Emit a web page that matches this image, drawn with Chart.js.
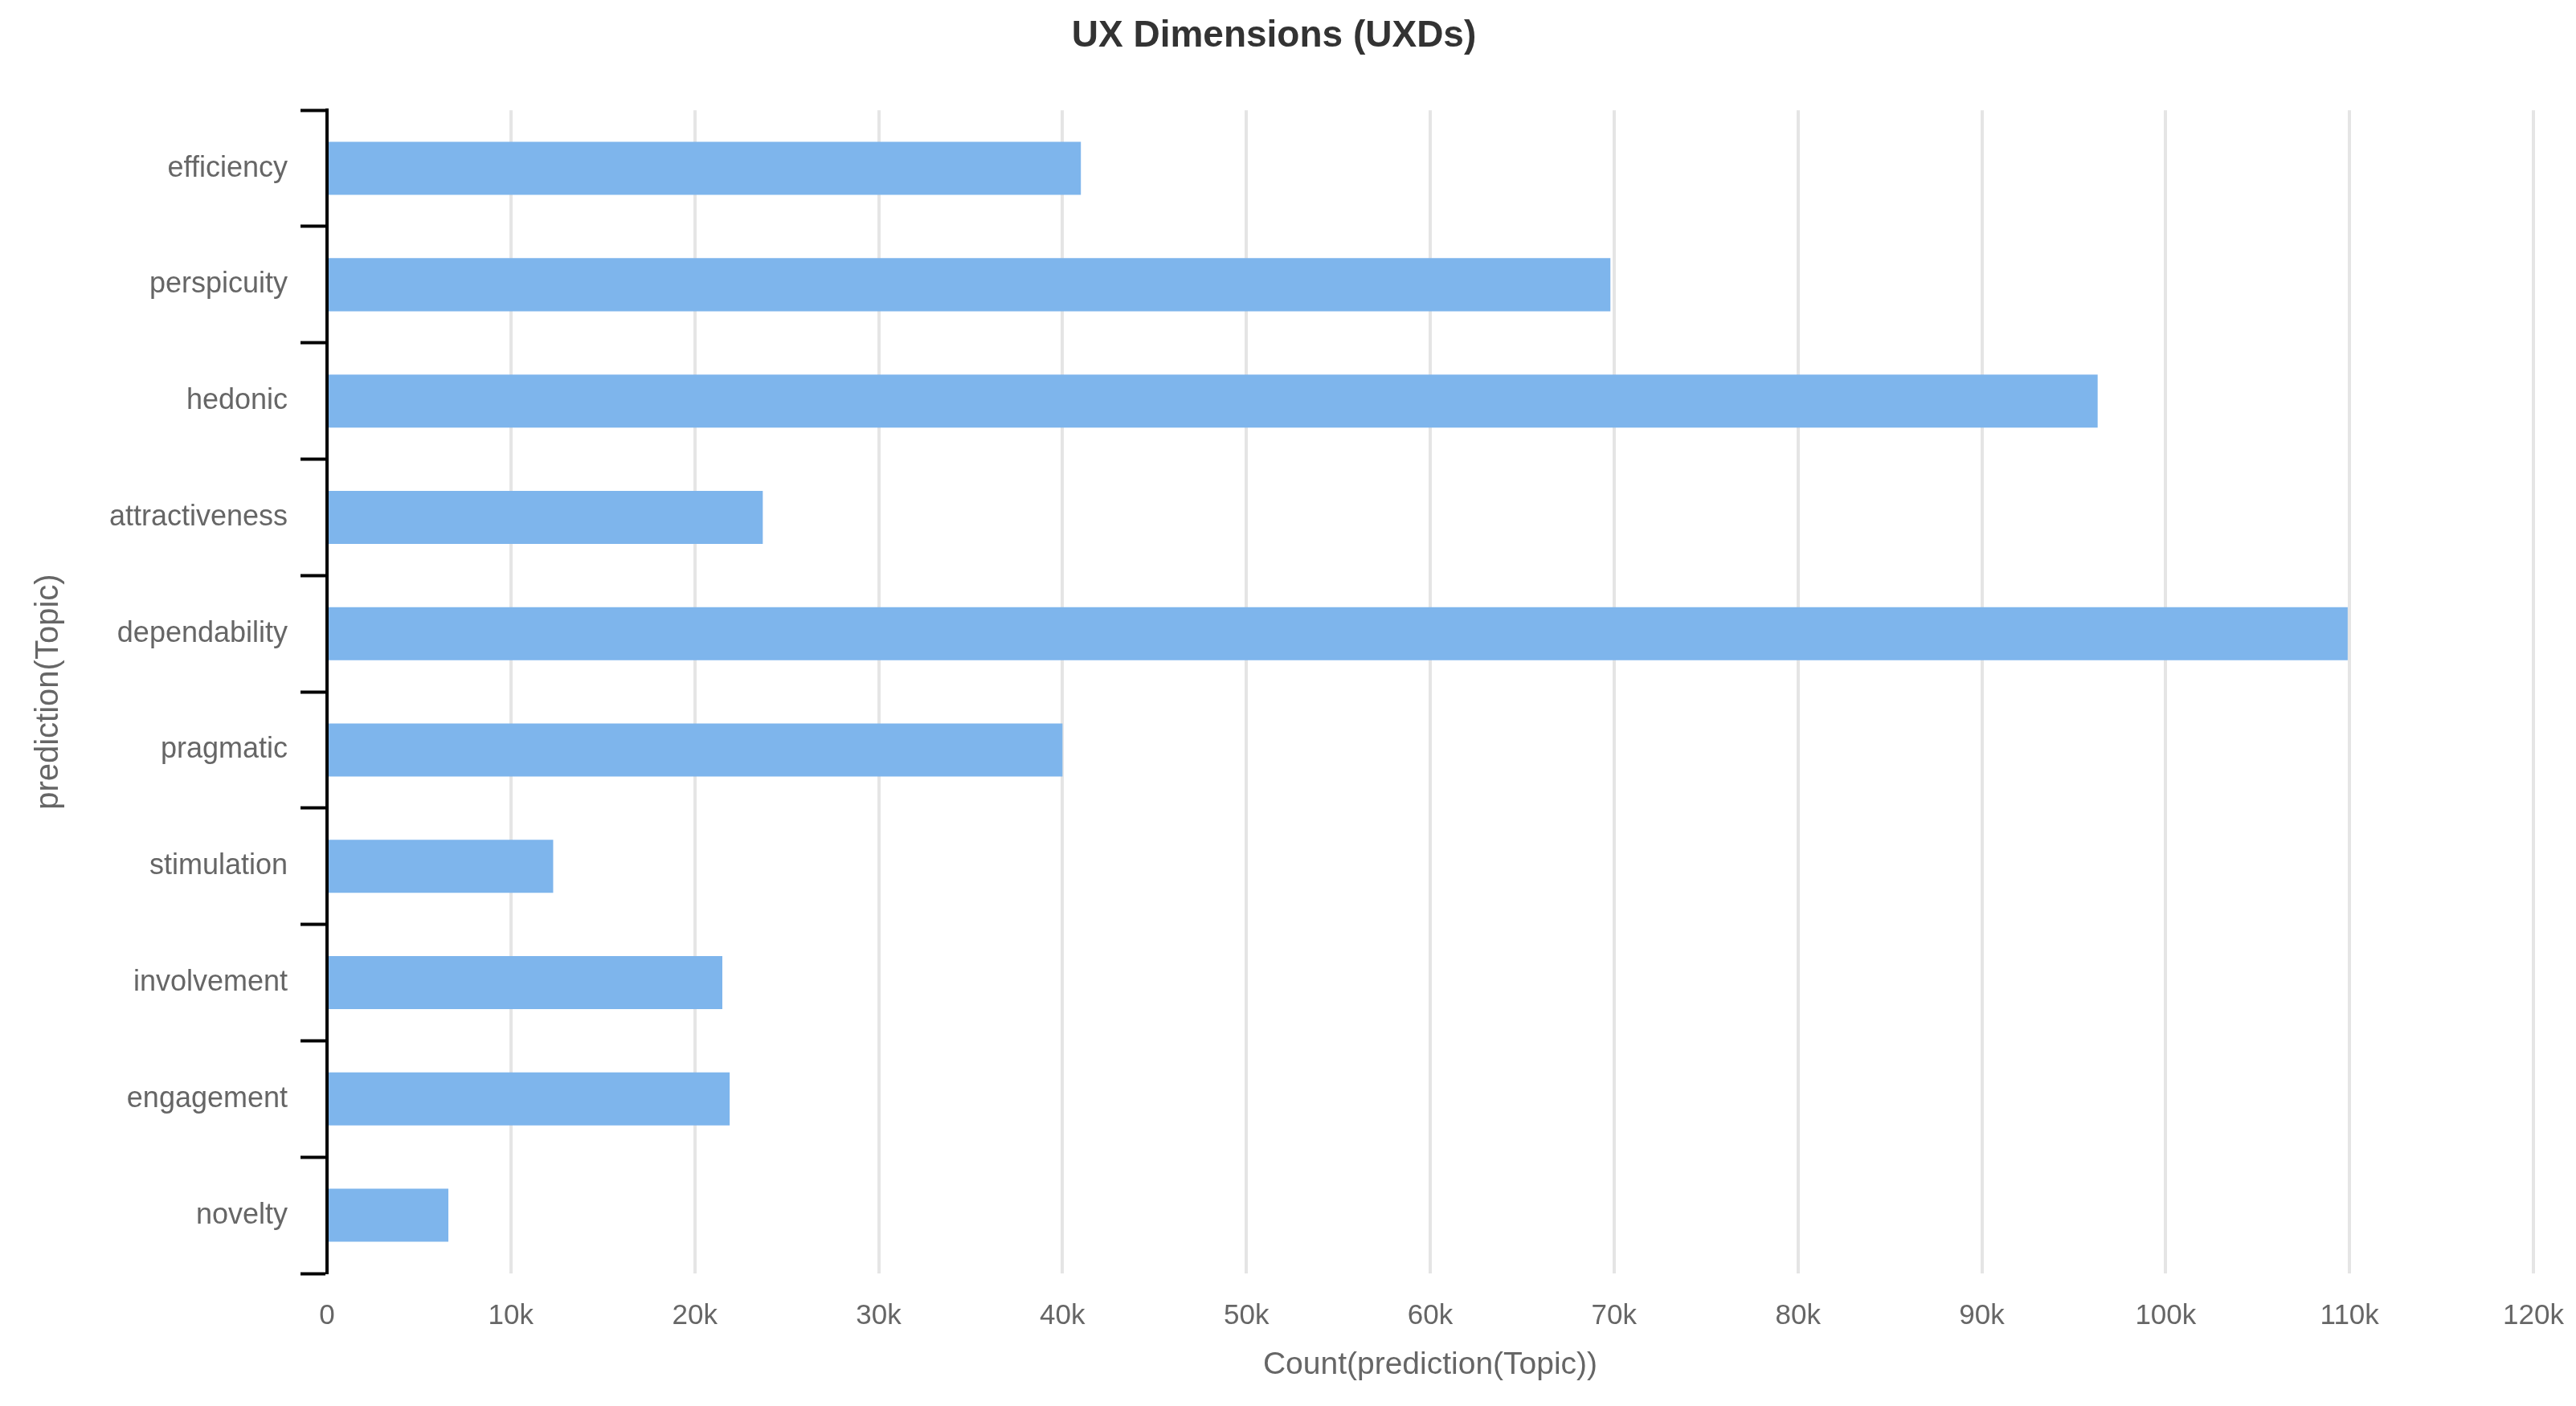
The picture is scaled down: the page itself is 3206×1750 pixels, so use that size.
<!DOCTYPE html>
<html>
<head>
<meta charset="utf-8">
<script src="https://cdn.jsdelivr.net/npm/chart.js@4.4.1/dist/chart.umd.min.js"></script>
<style>
  body { margin: 0; background: #fff; }
</style>
</head>
<body>
<canvas id="myChart" width="3206" height="1750"></canvas>
<script>
const topics = ['efficiency', 'perspicuity', 'hedonic', 'attractiveness', 'dependability',
    'pragmatic', 'stimulation', 'involvement', 'engagement', 'novelty'];
const counts = [41000, 69800, 96300, 23700, 109900, 40000, 12300, 21500, 21900, 6600];
const xTicks = [0, 10000, 20000, 30000, 40000, 50000, 60000, 70000, 80000, 90000, 100000, 110000, 120000];

Chart.defaults.font.family = "'Liberation Sans', Arial, sans-serif";
Chart.defaults.color = '#666';

const ctx = document.getElementById('myChart');

new Chart(ctx, {
    type: 'bar',
    data: {
        labels: topics,
        datasets: [{
            label: 'Count(prediction(Topic))',
            data: counts,
            backgroundColor: '#7eb5ec',
            barPercentage: 0.456,
            categoryPercentage: 1,
        }]
    },
    options: {
        indexAxis: 'y',
        responsive: false,
        animation: false,
        layout: {
            padding: { top: 0, left: 0, right: 35, bottom: 27 }
        },
        plugins: {
            legend: { display: false },
            tooltip: { enabled: false },
            title: {
                display: true,
                text: 'UX Dimensions (UXDs)',
                color: '#333',
                font: { size: 46, weight: 'bold' },
                padding: { top: 18, bottom: 64 }
            }
        },
        scales: {
            x: {
                min: xTicks[0],
                max: xTicks[xTicks.length - 1],
                afterFit: (scale) => {
                    scale.height = 138;
                    // fixed gap right of the 120k line
                    scale.paddingRight = 53;
                },
                border: { display: false },
                grid: {
                    color: '#e5e5e5',
                    lineWidth: 4,
                    drawTicks: false
                },
                ticks: {
                    stepSize: 10000,
                    autoSkip: false,
                    maxRotation: 0,
                    padding: 32,
                    color: '#666',
                    font: { size: 35 },
                    callback: (v) => v === 0 ? '0' : (v / 1000) + 'k'
                },
                title: {
                    display: true,
                    text: 'Count(prediction(Topic))',
                    color: '#666',
                    font: { size: 39 },
                    padding: 0
                }
            },
            y: {
                afterFit: (scale) => { scale.width = 407; },
                border: { display: true, color: '#000', width: 4 },
                grid: {
                    drawOnChartArea: false,
                    drawTicks: true,
                    tickLength: 33,
                    tickWidth: 4,
                    tickColor: '#000',
                    offset: true
                },
                ticks: {
                    padding: 16,
                    color: '#666',
                    font: { size: 36 }
                },
                title: {
                    display: true,
                    text: 'prediction(Topic)',
                    color: '#666',
                    font: { size: 40 },
                    padding: { top: 37, bottom: 0 }
                }
            }
        }
    }
});
</script>
</body>
</html>
